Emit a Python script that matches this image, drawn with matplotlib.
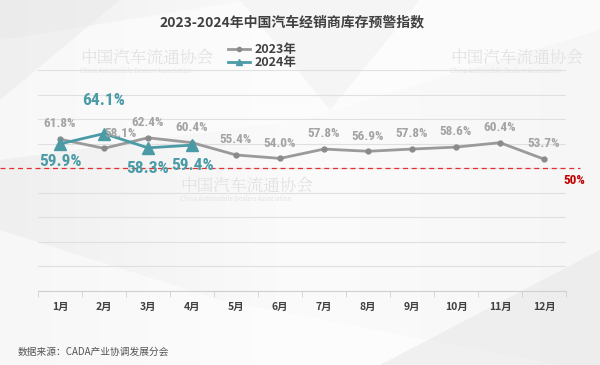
import matplotlib
matplotlib.use("Agg")
import matplotlib.pyplot as plt
import numpy as np
from matplotlib.patches import Polygon
from matplotlib.lines import Line2D

plt.rcParams['font.family'] = ['Noto Sans CJK SC', 'DejaVu Sans']

months = ["1月", "2月", "3月", "4月", "5月", "6月", "7月", "8月", "9月", "10月", "11月", "12月"]
vals_2023 = [61.8, 58.1, 62.4, 60.4, 55.4, 54.0, 57.8, 56.9, 57.8, 58.6, 60.4, 53.7]
vals_2024 = [59.9, 64.1, 58.3, 59.4]
warn_level = 50
title = "2023-2024年中国汽车经销商库存预警指数"
source = "数据来源：CADA产业协调发展分会"

W, H = 600, 365
fig = plt.figure(figsize=(W / 100, H / 100), dpi=100)
fig.patch.set_facecolor("#f4f4f4")

# background shapes
bg = fig.add_axes([0, 0, 1, 1], zorder=-10)
bg.set_xlim(0, W); bg.set_ylim(H, 0); bg.axis("off")
grad = np.linspace(0, 1, 256)
img = np.outer(np.ones(256), grad)
bg.imshow(img, extent=[0, W, H, 0], cmap=matplotlib.colors.LinearSegmentedColormap.from_list(
    "g", ["#efefef", "#fbfbfb", "#f6f6f6"]), aspect="auto", zorder=-10)
polys = [
    ([(0, 40), (250, 0), (600, 0), (600, 30), (300, 120), (0, 160)], "#ffffff", 0.55),
    ([(0, 230), (220, 300), (560, 365), (0, 365)], "#ffffff", 0.5),
    ([(380, 365), (600, 250), (600, 365)], "#e6e6e6", 0.5),
    ([(240, 0), (420, 0), (330, 110)], "#ececec", 0.4),
    ([(0, 100), (120, 0), (0, 0)], "#e9e9e9", 0.5),
]
for pts, c, a in polys:
    bg.add_patch(Polygon(pts, closed=True, color=c, alpha=a, lw=0, zorder=-9))
for (x0, y0) in [(50, 58), (420, 58), (150, 186)]:
    bg.text(x0 + 30, y0, "中国汽车流通协会", fontsize=12, color="#e2e2e2",
            family=["Noto Serif CJK JP", "Noto Sans CJK SC"], va="center", ha="left", zorder=-8)
    bg.text(x0 + 30, y0 + 13, "China Automobile Dealers Association", fontsize=4.5, color="#e4e4e4",
            va="center", ha="left", zorder=-8)

left, right = 38 / W, 566 / W
bottom, top = 1 - 291 / H, 1 - 70 / H
ax = fig.add_axes([left, bottom, right - left, top - bottom])
ax.patch.set_alpha(0)
x = np.arange(1, 13)
ax.set_xlim(0.5, 12.5)
ax.set_ylim(0, 90)
ax.set_yticks(np.arange(0, 91, 10))
ax.yaxis.grid(True, color="#e0e0e0", lw=0.8)
ax.set_axisbelow(True)
for s in ["left", "right", "top"]:
    ax.spines[s].set_visible(False)
ax.spines["bottom"].set_color("#d0d0d0")
ax.tick_params(axis="y", left=False, labelleft=False)
ax.set_xticks(np.arange(0.5, 12.6, 1), minor=True)
ax.tick_params(axis="x", which="minor", length=4, color="#d0d0d0")
ax.set_xticks(x)
ax.set_xticklabels(months, fontsize=7.5, fontweight="bold", color="#404040")
ax.tick_params(axis="x", which="major", length=0, pad=8)

px = 44.0  # pixels per category
def xpix(p):
    return 0.5 + (p - 38) / px

# warning line
ax.plot([xpix(0), xpix(580)], [warn_level, warn_level], ls=(0, (4, 3)), color="#e03030", lw=0.9,
        clip_on=False, zorder=2)
lab_font = ["Roboto Condensed", "DejaVu Sans"]
ax.text(xpix(574), warn_level - 2.5, f"{warn_level}%", color="#c00000", fontsize=9.5, fontweight="bold",
        family=lab_font, ha="center", va="top", clip_on=False)

gray = "#9a9a9a"
teal = "#4a9ba6"
ax.plot(x, vals_2023, color=gray, lw=2.0, marker="o", ms=3.5, mfc="#8a8a8a", mec="#8a8a8a", zorder=3)
x24 = np.arange(1, len(vals_2024) + 1)
ax.plot(x24, vals_2024, color=teal, lw=2.0, marker="^", ms=8, mfc=teal, mec=teal, zorder=4)

off23 = {1: (12, 0)}
for i, v in enumerate(vals_2023):
    dx, dy = off23.get(i, (0, 0))
    ax.annotate(f"{v:.1f}%", (x[i], v), xytext=(dx, 11 + dy), textcoords="offset points",
                ha="center", va="center", fontsize=9.5, fontweight="bold", color="#a3a3a3",
                family=lab_font, zorder=5)
off24 = [-13, 24, -15, -15]
for i, v in enumerate(vals_2024):
    ax.annotate(f"{v:.1f}%", (x24[i], v), xytext=(0, off24[i]), textcoords="offset points",
                ha="center", va="center", fontsize=12.5, fontweight="bold", color=teal,
                family=lab_font, zorder=5)

fig.text(292 / W, 1 - 22 / H, title, ha="center", va="center", fontsize=10,
         fontweight="bold", color="#404040")
fig.text(18 / W, 1 - 352 / H, source, ha="left", va="center", fontsize=7, color="#555555")

handles = [Line2D([], [], color=gray, lw=2, marker="o", ms=3, mfc="#8a8a8a", mec="#8a8a8a"),
           Line2D([], [], color=teal, lw=2, marker="^", ms=5, mfc=teal, mec=teal)]
fig.legend(handles, ["2023年", "2024年"], loc="center", bbox_to_anchor=(262 / W, 1 - 56 / H),
           frameon=False, handlelength=1.8, handletextpad=0.3, labelspacing=0.0,
           prop={"weight": "bold", "size": 9}, labelcolor="#404040", borderpad=0)

fig.savefig("out.png", dpi=100, facecolor=fig.get_facecolor())
